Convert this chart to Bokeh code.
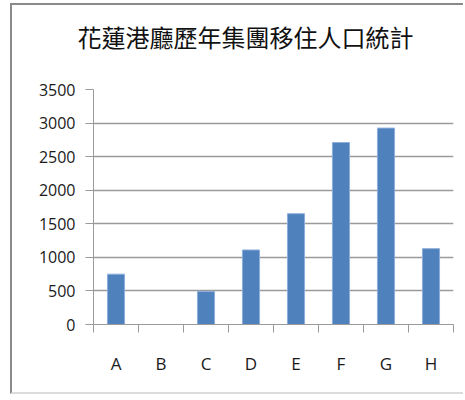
from bokeh.plotting import figure
from bokeh.models import FixedTicker, Range1d, ColumnDataSource, Title
from bokeh.embed import file_html
from bokeh.resources import INLINE

# Settlers relocated to Hualien Harbor Prefecture, by group
title_text = "花蓮港廳歷年集團移住人口統計"
categories = ["A", "B", "C", "D", "E", "F", "G", "H"]
population = [750, 0, 490, 1110, 1650, 2710, 2925, 1130]
y_ticks = [0, 500, 1000, 1500, 2000, 2500, 3000, 3500]

centers = [i + 0.5 for i in range(len(categories))]
source = ColumnDataSource(dict(x=centers, top=population, cat=categories))

p = figure(
    width=453, height=391,
    x_range=Range1d(0, len(categories)), y_range=Range1d(0, 3500),
    output_backend="svg", toolbar_location=None,
    min_border_left=81, min_border_right=12,
    min_border_top=84, min_border_bottom=72,
    background_fill_color="white", border_fill_color="white",
)
p.margin = (3, 0, 0, 10)
p.styles = {
    "border-left": "2px solid #8a8a8a",
    "border-top": "2px solid #8a8a8a",
    "border-bottom": "2px solid #dcdcdc",
}
p.outline_line_color = None

# blank panel that keeps the title clear of the plot area
p.add_layout(Title(text=" ", text_font_size="2px", standoff=32), "above")

p.title.text = title_text
p.title.align = "left"
p.title.offset = -16
p.title.standoff = 0
p.title.text_font = "Noto Sans CJK TC"
p.title.text_font_size = "24px"
p.title.text_font_style = "normal"
p.title.text_color = "#111111"

p.vbar(x="x", top="top", width=0.38, source=source,
       fill_color="#4f81bd", line_color="#8eaedb", line_width=1)

grid_color = "#9a9a9a"
tick_font = "Open Sans"

# x axis: labels at category centres, tick marks on category boundaries
xa = p.xaxis[0]
xa.ticker = FixedTicker(ticks=centers, minor_ticks=list(range(len(categories) + 1)))
xa.major_label_overrides = {c: lab for c, lab in zip(centers, categories)}
xa.major_tick_out = 0
xa.major_tick_in = 0
xa.minor_tick_out = 8
xa.minor_tick_in = 0
xa.minor_tick_line_color = grid_color
xa.axis_line_color = grid_color
xa.major_label_text_font = tick_font
xa.major_label_text_font_size = "17px"
xa.major_label_text_color = "#1a1a1a"
xa.major_label_standoff = 19

ya = p.yaxis[0]
ya.ticker = FixedTicker(ticks=y_ticks)
ya.major_tick_out = 8
ya.major_tick_in = 0
ya.minor_tick_line_color = None
ya.major_tick_line_color = grid_color
ya.axis_line_color = grid_color
ya.major_label_text_font = tick_font
ya.major_label_text_font_size = "16px"
ya.major_label_text_color = "#1a1a1a"
ya.major_label_standoff = 10

p.xgrid.visible = False
p.ygrid.ticker = FixedTicker(ticks=y_ticks)
p.ygrid.grid_line_color = grid_color
p.ygrid.grid_line_width = 1.5

open("out.html", "w").write(file_html(p, INLINE))
